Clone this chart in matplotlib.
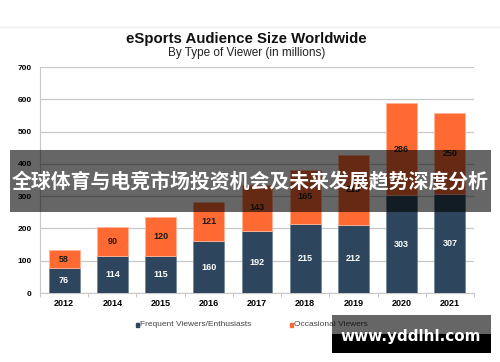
import matplotlib
matplotlib.use("Agg")
import matplotlib.pyplot as plt
from matplotlib.patches import Rectangle
from matplotlib.lines import Line2D
import numpy as np

years = ["2012", "2014", "2015", "2016", "2017", "2018", "2019", "2020", "2021"]
frequent = [76, 114, 115, 160, 192, 215, 212, 303, 307]
occasional = [58, 90, 120, 121, 143, 165, 215, 286, 250]
yticks = [0, 100, 200, 300, 400, 500, 600, 700]

navy = "#2e465d"
orange = "#ff6a33"

plt.rcParams['font.family'] = ['Liberation Sans', 'DejaVu Sans']

fig = plt.figure(figsize=(5, 3.62), dpi=100)
ax = fig.add_axes([0.08, 1 - 293/362, 0.868, (293 - 67)/362])

x = np.arange(len(years))
w = 0.64
ax.bar(x, frequent, w, color=navy, edgecolor="#6f8194", linewidth=0.5, zorder=3)
ax.bar(x, occasional, w, bottom=frequent, color=orange, edgecolor="#ffb59a", linewidth=0.6, zorder=3)

for xi, f, o in zip(x, frequent, occasional):
    ax.text(xi, f / 2, str(f), ha="center", va="center", color="white",
            fontsize=6.5, fontweight="bold", zorder=4)
    ax.text(xi, f + o / 2, str(o), ha="center", va="center", color="#1a1a1a",
            fontsize=6.5, fontweight="bold", zorder=4)

ax.set_xlim(-0.5, len(years) - 0.5)
ax.set_ylim(0, 700)
ax.set_yticks(yticks)
ax.set_yticklabels([str(t) for t in yticks], fontsize=6, fontweight="bold")
ax.set_xticks(x)
ax.set_xticklabels(years, fontsize=6.5, fontweight="bold")
ax.set_xticks(np.arange(len(years) + 1) - 0.5, minor=True)
ax.tick_params(axis="x", which="major", length=0, pad=4)
ax.tick_params(axis="x", which="minor", length=3, color="#bbbbbb", width=0.6)
ax.tick_params(axis="y", length=0, pad=6)
ax.yaxis.grid(True, color="#c8c8c8", linewidth=0.9, zorder=0)
for s in ["top", "right"]:
    ax.spines[s].set_visible(False)
ax.spines["left"].set_color("#c8c8c8")
ax.spines["bottom"].set_color("#c8c8c8")
ax.set_axisbelow(True)

# Titles
fig.text(0.493, 1 - 39/362, "eSports Audience Size Worldwide", ha="center", va="center",
         fontsize=10.8, fontweight="bold", color="#111111")
fig.text(0.493, 1 - 53/362, "By Type of Viewer (in millions)", ha="center", va="center",
         fontsize=8.5, color="#222222")

# Top separator line
fig.add_artist(Line2D([0, 1], [1 - 27/362, 1 - 27/362], color="#eeeeee", linewidth=1.0,
                      transform=fig.transFigure))

# Legend
lx1, lx2, ly = 139/500, 293/500, 1 - 324/362
fig.add_artist(Rectangle((lx1 - 0.006, ly - 0.007), 0.006, 0.009, color=navy, transform=fig.transFigure))
fig.text(lx1 + 0.003, ly, "Frequent Viewers/Enthusiasts", ha="left", va="center", fontsize=6, color="#444444")
fig.add_artist(Rectangle((lx2 - 0.006, ly - 0.007), 0.006, 0.009, color=orange, transform=fig.transFigure))
fig.text(lx2 + 0.003, ly, "Occasional Viewers", ha="left", va="center", fontsize=6, color="#444444")

# Banner overlay
fig.add_artist(Rectangle((10/500, 1 - 212/362), 481/500, 62/362, facecolor="black", alpha=0.6,
                         edgecolor="none", transform=fig.transFigure, zorder=10))
fig.text(250/500, 1 - 181/362, "全球体育与电竞市场投资机会及未来发展趋势深度分析", ha="center", va="center",
         fontsize=14.3, fontweight="bold", color="white", zorder=11,
         family=['Noto Sans CJK SC', 'DejaVu Sans'])

# Watermark
fig.add_artist(Rectangle((332/500, 1 - 334/362), 159/500, 19/362, facecolor="black", alpha=0.6,
                         edgecolor="none", transform=fig.transFigure, zorder=10))
fig.add_artist(Rectangle((332/500, 1 - 353/362), 159/500, 19/362, facecolor="black",
                         edgecolor="none", transform=fig.transFigure, zorder=10))
fig.text(411/500, 1 - 336/362, "www.yddlhl.com", ha="center", va="center",
         fontsize=11, fontweight="bold", color="white", zorder=11,
         family=['DejaVu Sans'])

fig.savefig("out.png", dpi=100, facecolor="white")
